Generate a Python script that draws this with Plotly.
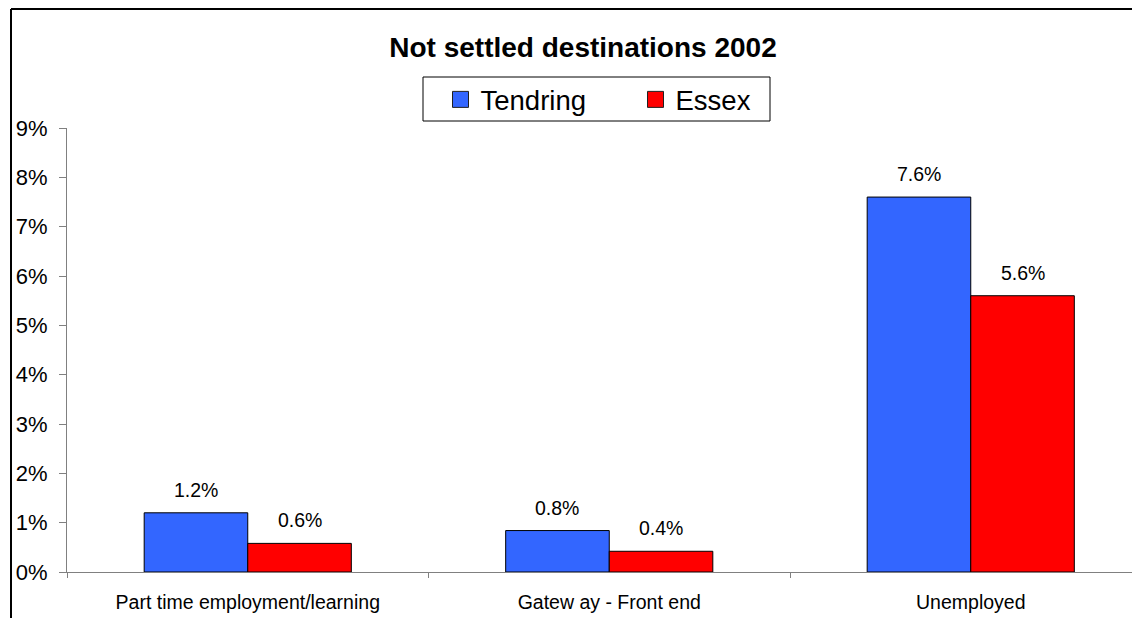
import plotly.graph_objects as go

categories = ["Part time employment/learning", "Gatew ay - Front end", "Unemployed"]
tendring = [0.012, 0.0084, 0.076]
essex = [0.0058, 0.0042, 0.056]
series_names = ["Tendring", "Essex"]
series_colors = ["#3366FF", "#FF0000"]
y_ticks = [i / 100 for i in range(0, 10)]
y_tick_labels = [f"{i}%" for i in range(0, 10)]
title_text = "Not settled destinations 2002"

FONT = "Arial, 'Liberation Sans', sans-serif"

# page renders with an 8px body margin; work in figure-paper pixels
L, T, B, W, H = 59, 120, 54, 1140, 618
PW = W - L          # plot width (r = 0)
PH = H - T - B      # plot height
CAT_PX = 361.5      # pixel width of one category


def fx(px):
    return (px - L) / PW


def fy(py):
    return (H - B - py) / PH


fig = go.Figure()
for name, vals, col in zip(series_names, [tendring, essex], series_colors):
    fig.add_trace(go.Bar(
        x=categories, y=vals, name=name,
        marker=dict(color=col, line=dict(color="#000000", width=1)),
        showlegend=False,
    ))
    fig.add_trace(go.Scatter(
        x=[None], y=[None], mode="markers", name=name,
        marker=dict(symbol="square", size=16, color=col,
                    line=dict(color="#202020", width=1)),
        showlegend=True, hoverinfo="skip",
    ))

bar_half_px = 52
for vals, shift in [(tendring, -bar_half_px), (essex, bar_half_px)]:
    for c, v in zip(categories, vals):
        fig.add_annotation(
            x=c, y=v, xref="x", yref="y", text=f"{v*100:.1f}%",
            showarrow=False, xshift=shift, yshift=23, yanchor="middle",
            font=dict(family=FONT, size=19.5, color="#000000"),
        )

# chart-area border (left and top visible)
fig.add_shape(type="line", xref="paper", yref="paper",
              x0=fx(3), x1=fx(3), y0=fy(1), y1=fy(700),
              line=dict(color="#000000", width=2))
fig.add_shape(type="line", xref="paper", yref="paper",
              x0=fx(3), x1=fx(1200), y0=fy(1), y1=fy(1),
              line=dict(color="#000000", width=2))
# legend box
fig.add_shape(type="rect", xref="paper", yref="paper",
              x0=fx(415), x1=fx(762), y0=fy(69), y1=fy(113),
              line=dict(color="#000000", width=1), fillcolor="#FFFFFF", layer="below")

fig.update_layout(
    width=W, height=H,
    margin=dict(l=L, r=0, t=T, b=B),
    paper_bgcolor="#FFFFFF", plot_bgcolor="#FFFFFF",
    font=dict(family=FONT, color="#000000"),
    barmode="group", bargap=0.427, bargroupgap=0,
    title=dict(text=f"<b>{title_text}</b>", x=fx(575), xref="paper", xanchor="center",
               y=1 - 39.5 / H, yref="container", yanchor="middle",
               font=dict(family=FONT, size=28, color="#000000")),
    legend=dict(orientation="h", x=fx(432.5), xanchor="left", y=fy(67), yanchor="top",
                font=dict(family=FONT, size=27.5, color="#000000"),
                borderwidth=0, bgcolor="rgba(0,0,0,0)",
                entrywidth=150, itemsizing="trace"),
    showlegend=True,
)
fig.update_xaxes(
    type="category", range=[-0.5, -0.5 + PW / CAT_PX],
    showline=True, linecolor="#808080", linewidth=1,
    ticks="outside", tickson="boundaries", ticklen=5, tickcolor="#808080",
    showgrid=False, zeroline=False,
    tickfont=dict(family=FONT, size=19.5, color="#000000"),
    ticklabelstandoff=13,
)
fig.update_yaxes(
    range=[0, 0.09], tickvals=y_ticks, ticktext=y_tick_labels,
    showline=True, linecolor="#808080", linewidth=1,
    ticks="outside", ticklen=7, tickcolor="#808080",
    showgrid=False, zeroline=False,
    tickfont=dict(family=FONT, size=22, color="#000000"),
    ticklabelstandoff=7,
)

fig.write_html("out.html")
